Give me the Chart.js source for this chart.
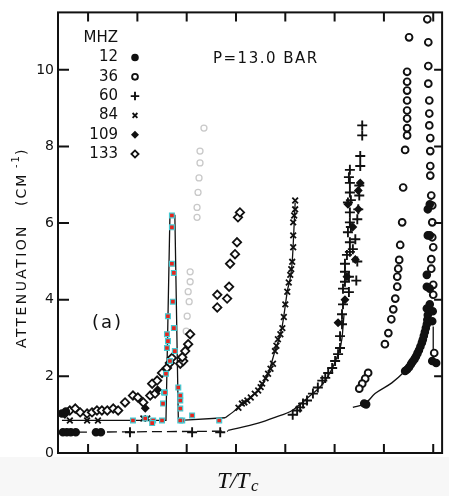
<!DOCTYPE html>
<html>
<head>
<meta charset="utf-8">
<script src="https://cdn.jsdelivr.net/npm/chart.js@4/dist/chart.umd.min.js"></script>
<style>
  html, body { margin: 0; padding: 0; background: #f7f7f7; }
  canvas { display: block; }
</style>
</head>
<body>
<canvas id="chart" width="449" height="496"></canvas>
<script>
// axis ticks (T/Tc along x, attenuation in cm^-1 along y)
const xTicks = [0.3, 0.4, 0.5, 0.6, 0.7, 0.8, 0.9, 1.0];
const yTicks = [0, 2, 4, 6, 8, 10];
const freqLabels = ['12', '36', '60', '84', '109', '133'];

// measured points, [T/Tc, attenuation]
const mhz12 = [
  [0.247,1.03],[0.255,1.08],[0.249,0.54],[0.257,0.54],[0.265,0.54],[0.275,0.54],[0.316,0.54],[0.326,0.54],
  [0.860,1.29],[0.864,1.27],[0.943,2.14],[0.947,2.18],[0.951,2.24],[0.955,2.32],[0.958,2.38],[0.962,2.45],
  [0.965,2.52],[0.968,2.60],[0.971,2.68],[0.974,2.78],[0.977,2.88],[0.979,2.96],[0.981,3.06],[0.983,3.16],
  [0.985,3.26],[0.987,3.36],[0.988,3.48],[0.989,3.60],[0.998,3.44],[0.987,3.77],[0.993,3.88],[0.999,3.70],
  [0.987,4.34],[0.993,4.29],[0.987,4.65],[0.989,5.68],[0.993,5.68],[0.989,6.36],[0.993,6.49],[0.998,2.40],[1.006,2.35]
];
const mhz36 = [
  [0.951,10.85],[0.947,9.95],[0.947,9.69],[0.947,9.46],[0.947,9.20],[0.947,8.94],[0.947,8.73],[0.947,8.48],
  [0.947,8.29],[0.943,7.91],[0.939,6.93],[0.937,6.02],[0.933,5.43],[0.931,5.04],[0.929,4.81],[0.927,4.60],
  [0.927,4.34],[0.923,4.03],[0.919,3.75],[0.915,3.49],[0.909,3.13],[0.902,2.84],[0.868,2.09],[0.862,1.94],
  [0.856,1.81],[0.850,1.68],
  [0.988,11.32],[0.990,10.72],[0.990,10.10],[0.990,9.64],[0.992,9.20],[0.992,8.86],[0.992,8.55],[0.994,8.22],
  [0.994,7.88],[0.994,7.49],[0.994,7.24],[0.996,6.72],[0.998,6.46],[0.998,6.02],[0.998,5.63],[1.000,5.37],
  [0.996,5.06],[0.996,4.81],[1.000,4.39],[1.000,4.13],[1.002,2.61]
];
const mhz60 = [
  [0.385,0.54],[0.511,0.54],[0.568,0.54],[0.715,1.00],[0.724,1.11],[0.730,1.19],[0.736,1.29],[0.744,1.37],
  [0.756,1.55],[0.766,1.71],[0.775,1.89],[0.781,1.96],[0.787,2.09],[0.795,2.22],[0.801,2.40],[0.807,2.58],
  [0.811,2.74],[0.811,3.05],[0.815,3.36],[0.815,3.62],[0.817,3.88],[0.817,4.29],[0.821,4.47],[0.821,4.73],
  [0.821,4.94],[0.825,5.17],[0.831,5.25],[0.831,5.50],[0.827,5.76],[0.831,6.02],[0.831,6.28],[0.827,6.54],
  [0.831,6.80],[0.831,7.05],[0.831,7.39],[0.852,7.49],[0.852,7.75],[0.850,6.98],[0.850,6.72],[0.848,6.36],
  [0.846,6.10],[0.842,5.58],[0.837,5.32],[0.856,8.29],[0.856,8.55],[0.829,4.20],[0.829,4.60],[0.833,5.90],
  [0.833,6.60],[0.829,7.20],[0.846,5.00],[0.844,4.50]
];
const mhz84 = [
  [0.263,0.85],[0.298,0.85],[0.320,0.85],[0.412,0.90],[0.420,0.90],
  [0.605,1.18],[0.612,1.29],[0.617,1.32],[0.623,1.37],[0.630,1.45],[0.638,1.55],[0.645,1.63],[0.650,1.72],
  [0.653,1.81],[0.660,1.95],[0.665,2.07],[0.670,2.20],[0.675,2.33],[0.679,2.66],[0.682,2.80],[0.685,2.97],
  [0.690,3.10],[0.694,3.26],[0.697,3.55],[0.700,3.88],[0.704,4.21],[0.707,4.45],[0.710,4.65],[0.712,4.80],
  [0.714,4.99],[0.716,5.37],[0.716,5.68],[0.716,6.02],[0.720,6.36],[0.718,6.20],[0.720,6.59]
];
const mhz109 = [
  [0.848,6.85],[0.848,6.36],[0.827,6.49],[0.852,7.05],[0.837,5.90],[0.842,5.05],[0.825,4.60],[0.821,4.00],
  [0.807,3.40],[0.416,1.17],[0.441,1.65]
];
const mhz133 = [
  [0.253,1.03],[0.263,1.11],[0.274,1.16],[0.284,1.06],[0.298,1.03],[0.308,1.06],[0.318,1.11],[0.328,1.11],
  [0.339,1.11],[0.351,1.16],[0.361,1.11],[0.375,1.32],[0.391,1.50],[0.401,1.45],[0.412,1.32],[0.426,1.50],
  [0.436,1.55],[0.430,1.81],[0.440,1.89],[0.450,2.09],[0.460,2.22],[0.466,2.35],[0.470,2.48],[0.487,2.33],
  [0.493,2.40],[0.497,2.66],[0.503,2.84],[0.507,3.10],[0.491,2.50],
  [0.562,4.13],[0.562,3.80],[0.582,4.03],[0.586,4.34],[0.588,4.94],[0.598,5.19],[0.602,5.50],[0.604,6.15],[0.608,6.28]
];
// faint run near the peak
const mhz133Faint = [
  [0.521,6.41],[0.521,6.15],[0.523,6.80],[0.525,7.18],[0.527,7.57],[0.527,7.88],[0.535,8.48],
  [0.505,3.95],[0.503,4.21],[0.507,4.47],[0.501,3.57],[0.499,3.18],[0.507,4.73]
];
// hand-marked points around the 84 MHz spike
const marked84 = [
  [0.470,6.20],[0.470,5.89],[0.470,4.94],[0.474,4.70],[0.472,3.95],[0.462,3.57],[0.474,3.26],[0.460,3.10],
  [0.462,2.92],[0.460,2.74],[0.476,2.66],[0.466,2.40],[0.458,2.07],[0.454,1.58],[0.452,1.29],[0.483,1.71],
  [0.487,1.37],[0.487,1.16],[0.432,0.85],[0.450,0.85],[0.491,0.85],[0.511,0.98],[0.566,0.85],[0.391,0.85],
  [0.416,0.90],[0.430,0.78],[0.456,1.58],[0.487,1.50],[0.487,0.85]
];

// guide curves
const spike84 = [[0.247,0.85],[0.458,0.85],[0.466,6.20],[0.476,6.20],[0.483,0.90],[0.487,0.85],[0.578,0.92]];
const fit84 = [[0.578,0.92],[0.595,1.08],[0.612,1.29],[0.630,1.47],[0.645,1.63],[0.665,2.07],[0.679,2.66],
  [0.693,3.26],[0.704,4.21],[0.714,4.99],[0.720,6.54]];
const base60 = [[0.247,0.54],[0.584,0.57]];
const fit60 = [[0.584,0.59],[0.645,0.78],[0.679,0.93],[0.714,1.11],[0.746,1.45],[0.781,1.89],[0.807,2.58],
  [0.815,3.00],[0.819,3.60]];
const fit12 = [[0.837,1.19],[0.862,1.29],[0.882,1.55],[0.916,1.83],[0.943,2.14],[0.967,2.48],[0.979,2.92],
  [0.987,3.36],[0.989,3.60]];
const drop12 = [[1.000,3.30],[1.000,2.66]];

const pts = arr => arr.map(([x, y]) => ({ x, y }));
const ink = '#111111';

const markers = (label, data, style) => Object.assign({
  label, data: pts(data), showLine: false,
  borderColor: ink, backgroundColor: ink, borderWidth: 1.8, pointRadius: 3.5
}, style);
const curve = (data, style) => Object.assign({
  label: '', data: pts(data), showLine: true, pointRadius: 0,
  borderColor: ink, borderWidth: 1.3, fill: false
}, style);

const datasets = [
  markers('marked', marked84, { pointStyle: 'rect', pointRadius: 3.4, backgroundColor: '#e8241c', borderColor: '#45c9d2', borderWidth: 1.2 }),
  markers('12', mhz12, { pointStyle: 'circle', pointRadius: 3.4 }),
  markers('36', mhz36, { pointStyle: 'circle', pointRadius: 3.4, backgroundColor: '#ffffff', borderWidth: 1.9 }),
  markers('60', mhz60, { pointStyle: 'cross', pointRadius: 5, borderWidth: 1.9 }),
  markers('84', mhz84, { pointStyle: 'crossRot', pointRadius: 4, borderWidth: 1.8 }),
  markers('109', mhz109, { pointStyle: 'rectRot', pointRadius: 3.2 }),
  markers('133', mhz133, { pointStyle: 'rectRot', pointRadius: 4.2, backgroundColor: '#ffffff', borderWidth: 1.8 }),
  markers('faint', mhz133Faint, { pointStyle: 'circle', pointRadius: 3, backgroundColor: 'rgba(0,0,0,0)', borderColor: '#c9c9c9', borderWidth: 1.3 }),
  curve(spike84, { tension: 0 }),
  curve(fit84, { cubicInterpolationMode: 'monotone' }),
  curve(base60, { borderDash: [10, 5] }),
  curve(fit60, { cubicInterpolationMode: 'monotone' }),
  curve(fit12, { cubicInterpolationMode: 'monotone' }),
  curve(drop12, {})
];

// paper, frame, inward ticks and the lettering
const paperPlugin = {
  id: 'paper',
  beforeDraw(chart) {
    const { ctx, width, height } = chart;
    ctx.save();
    ctx.fillStyle = '#ffffff';
    ctx.fillRect(0, 0, width, 457);
    ctx.fillStyle = '#f7f7f7';
    ctx.fillRect(0, 457, width, height - 457);
    ctx.restore();
  },
  afterDatasetsDraw(chart) {
    const { ctx, chartArea: a, scales: { x, y } } = chart;
    ctx.save();
    ctx.strokeStyle = ink;
    ctx.lineWidth = 2;
    ctx.strokeRect(a.left, a.top, a.right - a.left, a.bottom - a.top);
    ctx.beginPath();
    xTicks.forEach(v => {
      const px = x.getPixelForValue(v);
      ctx.moveTo(px, a.bottom); ctx.lineTo(px, a.bottom - 9);
      ctx.moveTo(px, a.top); ctx.lineTo(px, a.top + 9);
    });
    yTicks.forEach(v => {
      const py = y.getPixelForValue(v);
      ctx.moveTo(a.left, py); ctx.lineTo(a.left + 11, py);
      ctx.moveTo(a.right, py); ctx.lineTo(a.right - 8, py);
    });
    ctx.stroke();

    // frequency key
    ctx.fillStyle = ink;
    ctx.font = '15px "DejaVu Sans"';
    ctx.textAlign = 'right';
    ctx.textBaseline = 'middle';
    ctx.fillText('MHZ', 118, 38);
    freqLabels.forEach((lab, i) => {
      const ly = 57.5 + i * 19.3;
      ctx.fillStyle = ink;
      ctx.fillText(lab, 118, ly);
      const ds = chart.data.datasets.find(d => d.label === lab);
      ctx.save();
      ctx.fillStyle = ds.backgroundColor;
      ctx.strokeStyle = ds.borderColor;
      ctx.lineWidth = ds.borderWidth;
      Chart.helpers.drawPoint(ctx, {
        pointStyle: ds.pointStyle, radius: ds.pointRadius * 0.85,
        borderWidth: ds.borderWidth, rotation: 0
      }, 135, ly);
      ctx.restore();
    });

    ctx.fillStyle = ink;
    ctx.textAlign = 'left';
    ctx.letterSpacing = '1.5px';
    ctx.fillText('P=13.0 BAR', 213, 59);
    ctx.font = '18px "DejaVu Sans"';
    ctx.letterSpacing = '2px';
    ctx.fillText('(a)', 92, 323);

    // rotated y title
    ctx.save();
    ctx.translate(22, 0);
    ctx.rotate(-Math.PI / 2);
    ctx.font = '14px "DejaVu Sans"';
    ctx.letterSpacing = '2.4px';
    ctx.textAlign = 'left';
    ctx.fillText('ATTENUATION', -348, 0);
    ctx.letterSpacing = '2px';
    ctx.fillText('(CM', -206, 0);
    ctx.font = '10px "DejaVu Sans"';
    ctx.fillText('-1', -168, -6);
    ctx.font = '14px "DejaVu Sans"';
    ctx.fillText(')', -155, 0);
    ctx.restore();

    // x title in the strip below
    ctx.letterSpacing = '0px';
    ctx.font = 'italic 24px "Liberation Serif"';
    ctx.textBaseline = 'alphabetic';
    ctx.fillText('T', 217, 488);
    ctx.fillText('/', 230, 488);
    ctx.fillText('T', 236, 488);
    ctx.font = 'italic 17px "Liberation Serif"';
    ctx.fillText('c', 251, 491);
    ctx.restore();
  }
};

new Chart(document.getElementById('chart'), {
  type: 'scatter',
  data: { datasets },
  options: {
    responsive: false,
    animation: false,
    layout: { padding: { top: 8, right: 6, bottom: 43, left: 0 } },
    plugins: { legend: { display: false }, tooltip: { enabled: false } },
    scales: {
      x: { type: 'linear', min: 0.239, max: 1.018, display: false },
      y: {
        type: 'linear', min: 0, max: 11.5,
        afterFit: s => { s.width = 58; },
        afterBuildTicks: s => { s.ticks = yTicks.map(v => ({ value: v })); },
        grid: { display: false, drawTicks: false },
        border: { display: false },
        ticks: { padding: 4, color: ink, font: { family: 'DejaVu Sans', size: 14 } }
      }
    }
  },
  plugins: [paperPlugin]
});
</script>
</body>
</html>
